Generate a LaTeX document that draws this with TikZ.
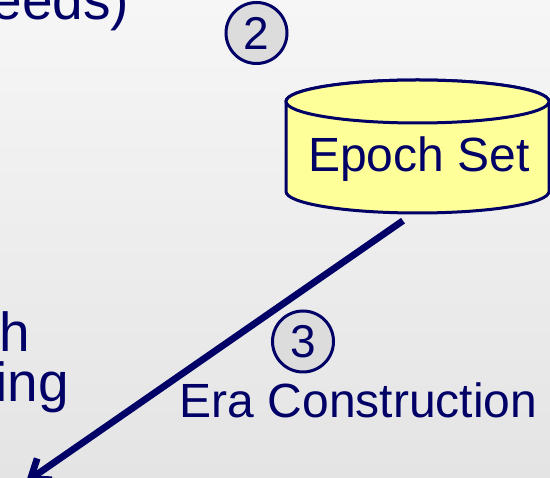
\documentclass[tikz,border=0pt]{standalone}
\usepackage{fontspec}
\setmainfont{Liberation Sans}
\usetikzlibrary{arrows.meta}
\definecolor{navy}{RGB}{0,0,102}
\definecolor{cylyellow}{RGB}{255,255,153}
\definecolor{circgray}{RGB}{220,220,220}
\definecolor{bgtop}{RGB}{246,246,246}
\definecolor{bgbot}{RGB}{228,228,228}
\tikzset{
  txt/.style={text=navy, inner sep=0pt, font=\fontsize{48}{57}\selectfont},
  bigtxt/.style={txt, font=\fontsize{55}{66}\selectfont},
  numcirc/.style={circle, draw=navy, line width=3pt, fill=circgray, text=navy,
    inner sep=0pt, minimum size=61pt, font=\fontsize{46}{55}\selectfont},
  cylline/.style={draw=navy, line width=3pt, fill=cylyellow},
  arrowline/.style={draw=navy, line width=6.8pt,
    -{Straight Barb[length=17pt, width=26pt, line width=6.8pt]}},
}
\begin{document}
\begin{tikzpicture}[x=1pt,y=-1pt]
\shade[top color=bgtop, bottom color=bgbot] (0,0) rectangle (550,478);
\useasboundingbox (0,0) rectangle (550,478);
\clip (0,0) rectangle (550,478);
% cylinder
\path[cylline] (286,101.5) -- (286,191.5)
  arc[start angle=180, end angle=0, x radius=131.5, y radius=21.5]
  -- (549,101.5)
  arc[start angle=0, end angle=-180, x radius=131.5, y radius=21.5] -- cycle;
\draw[cylline] (417.5,101.5) ellipse[x radius=131.5, y radius=21.5];
\node[inner sep=0pt, minimum width=263pt, minimum height=133pt] (epoch) at (417.5,146.5) {};
\node[txt, anchor=base] (epochtxt) at (419,172) {Epoch Set};
% numbers
\node[numcirc] (n2) at (256.5,33) {2};
\node[numcirc] (n3) at (303,341.5) {3};
% texts
\node[bigtxt, anchor=base east] (eeds) at (129.5,20) {eeds)};
\node[bigtxt, anchor=base east] (h) at (30.5,352) {h};
\node[bigtxt, anchor=base east] (ing) at (69,402) {ing};
\node[txt, anchor=base west] (era) at (179.5,417.5) {Era Construction};
% arrow
\coordinate (tip) at (26,482);
\draw[arrowline] ([shift={(-14.5,7.5)}]epoch.south) -- (tip);
\end{tikzpicture}
\end{document}
